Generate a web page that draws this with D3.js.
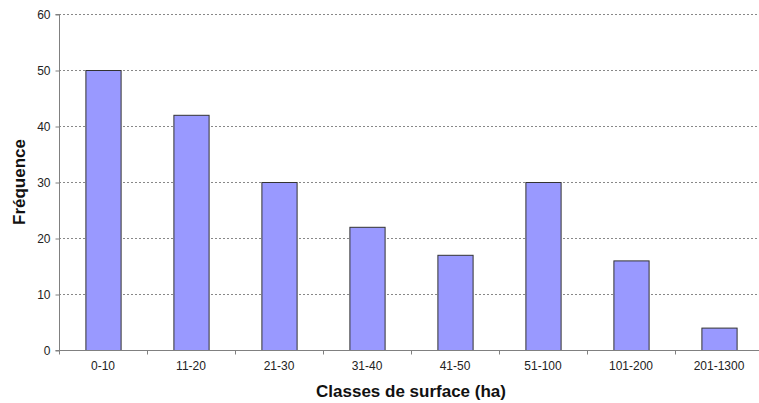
<!DOCTYPE html>
<html>
<head>
<meta charset="utf-8">
<script src="https://cdn.jsdelivr.net/npm/d3@7"></script>
<style>
  body { margin: 0; background: #fff; }
  text { font-family: "Liberation Sans", Arial, sans-serif; }
</style>
</head>
<body>
<svg id="chart" width="759" height="403"></svg>
<script>
const classes = ['0-10', '11-20', '21-30', '31-40', '41-50', '51-100', '101-200', '201-1300'];
const frequences = [50, 42, 30, 22, 17, 30, 16, 4];
const yTicks = [0, 10, 20, 30, 40, 50, 60];

const plotLeft = 59;
const plotRight = 763;
const plotTop = 14;
const plotBottom = 350;

const svg = d3.select('#chart');

const xScale = d3.scaleBand()
  .domain(classes)
  .range([plotLeft, plotRight])
  .padding(0);

const yScale = d3.scaleLinear()
  .domain([0, 60])
  .range([plotBottom, plotTop]);

// dotted gridlines
svg.append('g')
  .selectAll('line')
  .data(yTicks.filter((d) => d > 0))
  .enter()
  .append('line')
  .attr('x1', plotLeft)
  .attr('x2', plotRight)
  .attr('y1', (d) => yScale(d) + 0.5)
  .attr('y2', (d) => yScale(d) + 0.5)
  .attr('stroke', '#888')
  .attr('stroke-width', 1)
  .attr('stroke-dasharray', '2,2');

// bars
const barW = xScale.bandwidth() * 0.4;
svg.append('g')
  .selectAll('rect')
  .data(classes)
  .enter()
  .append('rect')
  .attr('x', (d) => xScale(d) + (xScale.bandwidth() - barW) / 2 + 0.5)
  .attr('y', (d, i) => yScale(frequences[i]) + 0.5)
  .attr('width', barW)
  .attr('height', (d, i) => yScale(0) - yScale(frequences[i]))
  .attr('fill', '#9999ff')
  .attr('stroke', '#333')
  .attr('stroke-width', 1);

// axes
const leftAxis = d3.axisLeft(yScale)
  .tickValues(yTicks)
  .tickSize(4)
  .tickPadding(5);

const yAxis = svg.append('g')
  .attr('transform', `translate(${plotLeft + 0.5}, 0.5)`)
  .call(leftAxis);

const bottomAxis = d3.axisBottom(xScale)
  .tickSize(0)
  .tickPadding(11);

const xAxis = svg.append('g')
  .attr('transform', `translate(0, ${plotBottom + 0.5})`)
  .call(bottomAxis);

// category separators on x axis
xAxis.append('g')
  .selectAll('line')
  .data(classes)
  .enter()
  .append('line')
  .attr('x1', (d) => xScale(d) + 0.5)
  .attr('x2', (d) => xScale(d) + 0.5)
  .attr('y1', 0)
  .attr('y2', 4)
  .attr('stroke', '#808080');

[yAxis, xAxis].forEach((ax) => {
  ax.selectAll('.domain').attr('stroke', '#808080');
  ax.selectAll('.tick line').attr('stroke', '#808080');
  ax.selectAll('text')
    .attr('fill', '#222')
    .style('font-size', '12px');
});
yAxis.select('.domain').attr('d', `M-4,${plotTop}H0V${plotBottom}H-4`);
xAxis.select('.domain').attr('d', `M${plotLeft},0H${plotRight}`);

// axis titles
svg.append('text')
  .text('Fréquence')
  .attr('transform', `translate(25, ${(plotTop + plotBottom) / 2}) rotate(-90)`)
  .attr('text-anchor', 'middle')
  .style('font-size', '17px')
  .style('font-weight', 'bold')
  .attr('fill', '#111');

svg.append('text')
  .text('Classes de surface (ha)')
  .attr('x', 411)
  .attr('y', 397)
  .attr('text-anchor', 'middle')
  .style('font-size', '17px')
  .style('font-weight', 'bold')
  .attr('fill', '#111');
</script>
</body>
</html>
